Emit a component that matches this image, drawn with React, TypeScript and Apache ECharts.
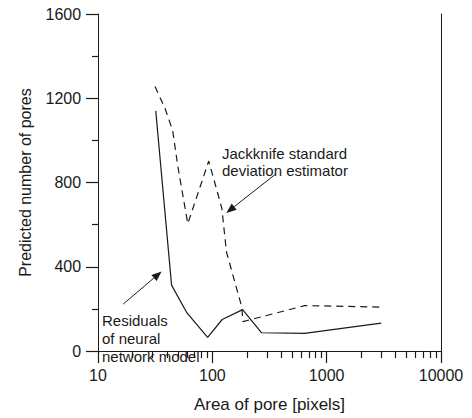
import React, { useEffect, useRef } from "react";
import * as echarts from "echarts";

const residuals: [number, number][] = [
  [32, 1140], [44, 313], [60, 181], [91, 65], [122, 150], [184, 197], [270, 87], [640, 84], [3000, 133],
];
const jackknife: [number, number][] = [
  [31.5, 1256], [38.5, 1153], [45, 1047], [50, 874], [61, 605], [93, 902], [121, 679], [133, 470],
  [181, 209], [185, 140], [643, 216], [3000, 209],
];
const jackArrow: [number, number][] = [[352, 837], [132.5, 656]];
const resArrow: [number, number][] = [[16.6, 223], [36, 378]];
const jackLabel = "Jackknife standard\ndeviation estimator";
const resLabel = "Residuals\nof neural\nnetwork model";

const FONT = "Liberation Sans";
const INK = "#1a1a1a";

export default function App() {
  const ref = useRef<HTMLDivElement>(null);
  useEffect(() => {
    if (!ref.current) return;
    const chart = echarts.init(ref.current, undefined, { renderer: "svg" });
    const fmtX = (v: number) => String(v);
    const fmtY = (v: number) => String(v) + "\u00a0\u00a0";
    const borderAxis = {
      axisLine: { show: true, lineStyle: { color: INK, width: 1 } },
      axisTick: { show: false },
      axisLabel: { show: false },
      splitLine: { show: false },
    };
    chart.setOption({
      animation: false,
      grid: { left: 98, right: 31, top: 14, bottom: 60 },
      xAxis: [
        {
          type: "log", logBase: 10, min: 10, max: 10000,
          name: "Area of pore [pixels]", nameLocation: "middle", nameGap: 39,
          nameTextStyle: { fontSize: 17, color: INK, fontFamily: FONT },
          axisLine: { show: true, lineStyle: { color: INK } },
          axisTick: { show: true, length: 12, lineStyle: { color: INK, width: 1.2 } },
          minorTick: { show: true, splitNumber: 9, length: 7, lineStyle: { color: INK, width: 1.2 } },
          axisLabel: { fontSize: 16, color: INK, fontFamily: FONT, formatter: fmtX, lineHeight: 32 },
          splitLine: { show: false },
        },
        { type: "log", logBase: 10, min: 10, max: 10000, position: "top", ...borderAxis },
      ],
      yAxis: [
        {
          type: "value", min: 0, max: 1600, interval: 400,
          name: "Predicted number of pores", nameLocation: "middle", nameGap: 65, nameRotate: 90,
          nameTextStyle: { fontSize: 16, color: INK, fontFamily: FONT },
          axisLine: { show: true, lineStyle: { color: INK } },
          axisTick: { show: true, length: 12, lineStyle: { color: INK, width: 1.2 } },
          minorTick: { show: true, splitNumber: 2, length: 6, lineStyle: { color: INK, width: 1.2 } },
          axisLabel: { fontSize: 16, color: INK, fontFamily: FONT, formatter: fmtY },
          splitLine: { show: false },
        },
        { type: "value", min: 0, max: 1600, interval: 400, position: "right", ...borderAxis },
      ],
      series: [
        {
          type: "line", name: "Residuals", data: residuals, symbol: "none",
          lineStyle: { color: INK, width: 1.2, type: "solid" },
        },
        {
          type: "line", name: "Jackknife", data: jackknife, symbol: "none",
          lineStyle: { color: INK, width: 1.2, type: [7, 5] },
        },
      ],
    });
    const arrow = (pts: [number, number][]) => {
      const a = chart.convertToPixel({ xAxisIndex: 0, yAxisIndex: 0 }, pts[0]) as number[];
      const b = chart.convertToPixel({ xAxisIndex: 0, yAxisIndex: 0 }, pts[1]) as number[];
      const dx = b[0] - a[0], dy = b[1] - a[1];
      const len = Math.hypot(dx, dy) || 1;
      const ux = dx / len, uy = dy / len;
      const L = 10, W = 4;
      const bx = b[0] - ux * L, by = b[1] - uy * L;
      return [
        { type: "line", silent: true, shape: { x1: a[0], y1: a[1], x2: bx, y2: by }, style: { stroke: INK, lineWidth: 1 } },
        {
          type: "polygon", silent: true,
          shape: { points: [[b[0], b[1]], [bx - uy * W, by + ux * W], [bx + uy * W, by - ux * W]] },
          style: { fill: INK },
        },
      ];
    };
    chart.setOption({
      graphic: [
        ...arrow(jackArrow),
        ...arrow(resArrow),
        {
          type: "text", left: 222, top: 145, silent: true,
          style: { text: jackLabel, font: `15px ${FONT}`, fill: INK, lineHeight: 17 },
        },
        {
          type: "text", left: 102, top: 311, silent: true,
          style: { text: resLabel, font: `15px ${FONT}`, fill: INK, lineHeight: 18 },
        },
      ],
    });
    return () => chart.dispose();
  }, []);
  return <div ref={ref} style={{ width: 472, height: 418, position: "absolute", left: 0, top: 0 }} />;
}
